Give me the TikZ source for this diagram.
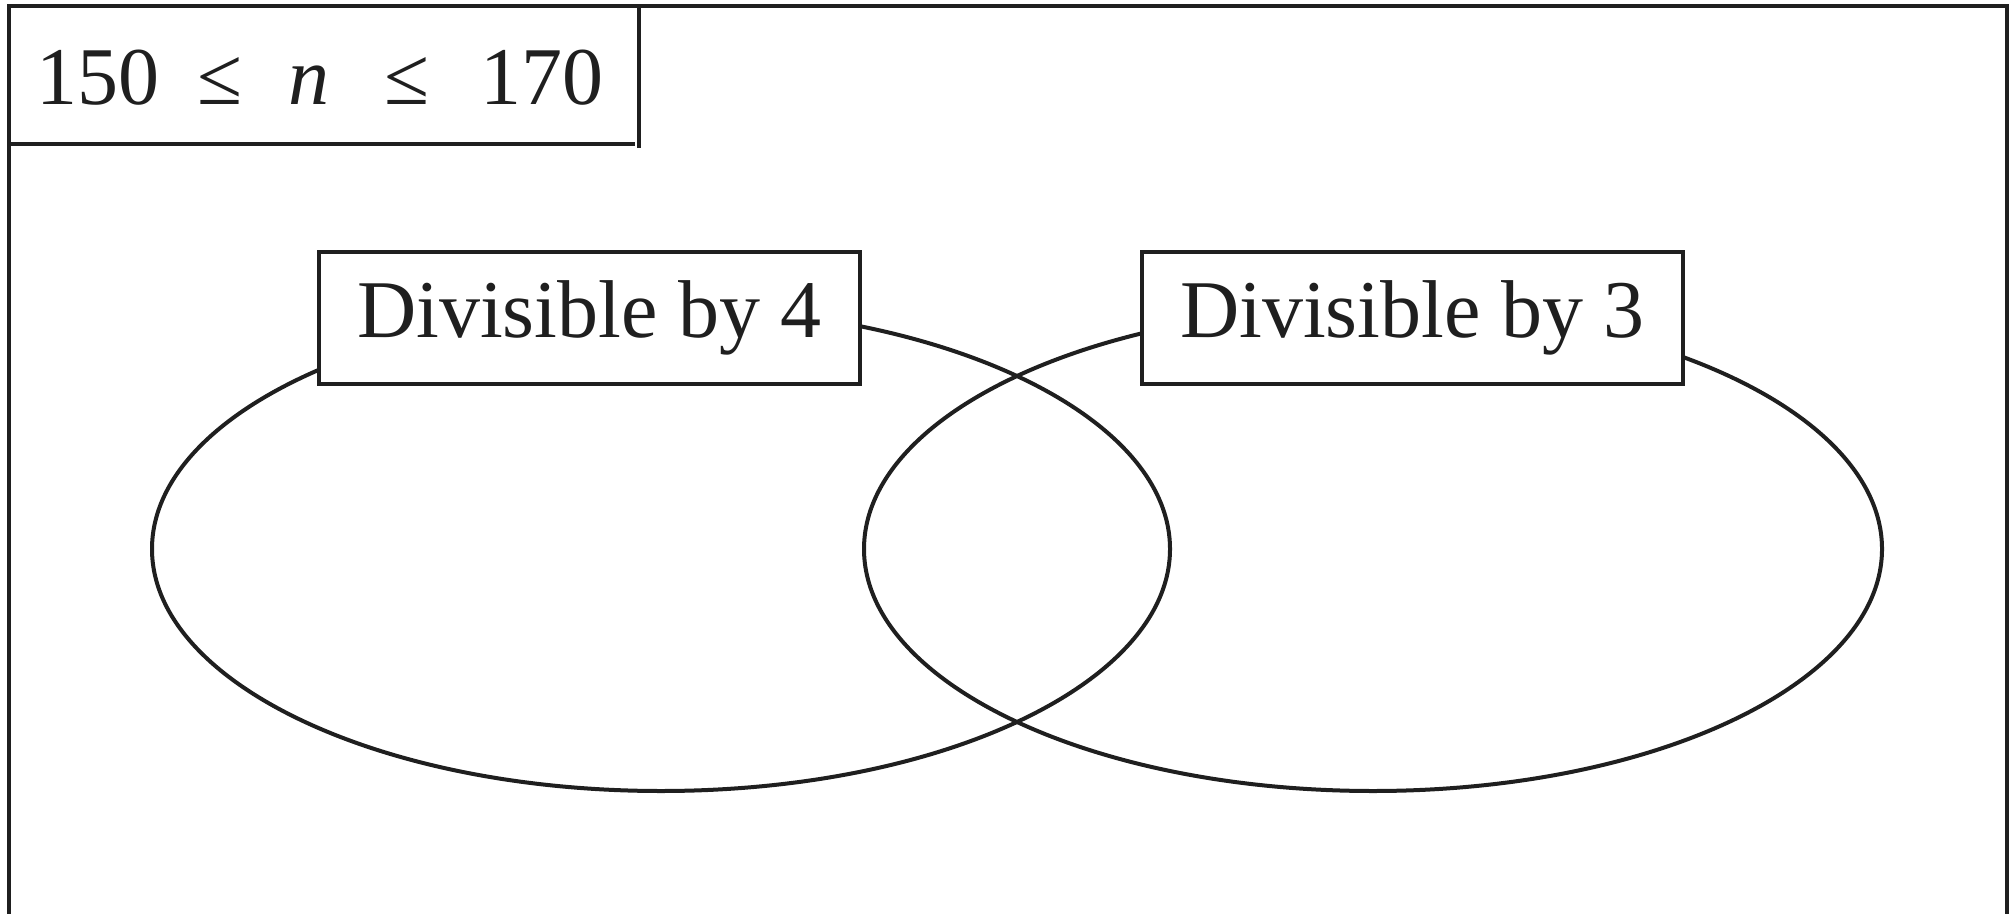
\documentclass[tikz,border=0pt]{standalone}
\usepackage{fontspec}
\setmainfont{Liberation Serif}
\begin{document}
\begin{tikzpicture}[x=0.5pt,y=-0.5pt,
  ln/.style={line width=2pt,draw=black!88},
  txt/.style={font=\fontsize{41}{48}\selectfont,text=black!88},
  lbl/.style={ln,txt,fill=white,minimum width=270.5pt,minimum height=66pt,inner sep=0pt}]
\useasboundingbox (0,0) rectangle (2016,914);
% outer frame
\draw[ln] (9,914) -- (9,6.5) -- (2007,6.5) -- (2007,914);
% title box
\draw[ln] (9,144) -- (635,144);
\draw[ln] (639,6.5) -- (639,148);
\node[txt,anchor=base west,inner sep=0pt] (title) at (36,105)
  {150\hspace{0.47em}≤\hspace{0.55em}\textit{n}\hspace{0.68em}≤\hspace{0.62em}170};
% ellipses
\draw[ln] (661,549) ellipse [x radius=509, y radius=242];
\draw[ln] (1373,549) ellipse [x radius=509, y radius=242];
% labels
\node[lbl] (a) at (589.5,318) {Divisible by 4};
\node[lbl] (b) at (1412.5,318) {Divisible by 3};
\end{tikzpicture}
\end{document}
